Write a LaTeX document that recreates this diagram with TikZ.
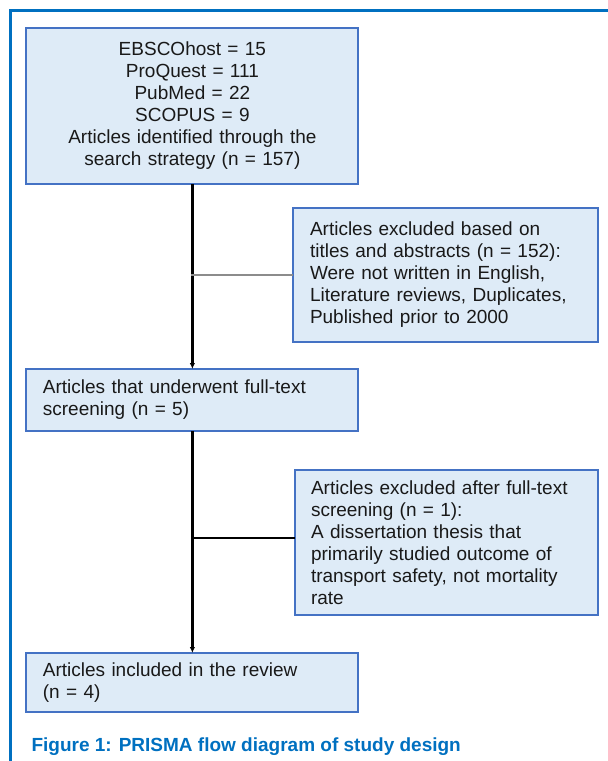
\documentclass[tikz,border=0pt]{standalone}
\usepackage{fontspec}
\setmainfont{Liberation Sans}
\usetikzlibrary{positioning, arrows.meta}
\definecolor{frameblue}{RGB}{0,112,192}
\definecolor{boxfill}{RGB}{222,235,247}
\definecolor{boxedge}{RGB}{68,114,196}

\begin{document}
\begin{tikzpicture}[
    x=1pt, y=-1pt,
    main box/.style={draw=boxedge, fill=boxfill, line width=2pt, outer sep=0pt,
        anchor=north west, inner ysep=0pt, text=black!90,
        font=\fontsize{19}{22}\selectfont},
    side box/.style={main box, align=left, inner xsep=16.5pt, text width=271pt},
    flow line/.style={line width=2.4pt, black, -{Latex[length=6pt, width=5.5pt]}},
    tap line/.style={line width=2.4pt, black},
    thin tap/.style={line width=1.3pt, black!45},
    frame line/.style={line width=2.6pt, frameblue}
]
\useasboundingbox (0,0) rectangle (608,761);

% Marco exterior (solo arriba e izquierda)
\draw[frame line] (10.5,761) -- (10.5,10.5) -- (608,10.5);

% 1. Cajas principales
\node[main box, align=center, text width=312pt, inner xsep=10pt,
      minimum width=332pt, minimum height=155.5pt] (ident) at (26.4,28.3)
    {EBSCOhost = 15\\ ProQuest = 111\\ PubMed = 22\\ SCOPUS = 9\\
     Articles identified through the\\ search strategy (n = 157)};
\node[main box, align=left, text width=299pt, inner xsep=16.5pt,
      minimum width=332pt, minimum height=62pt] (screen) at (26.4,369)
    {Articles that underwent full-text\\ screening (n = 5)};
\node[main box, align=left, text width=299pt, inner xsep=16.5pt,
      minimum width=332pt, minimum height=59pt] (incl) at (26.4,653)
    {Articles included in the review\\ (n = 4)};

% 2. Cajas de exclusión
\node[side box, inner xsep=17pt, minimum width=305pt, minimum height=134pt] (exclA) at (293,208)
    {Articles excluded based on\\ titles and abstracts (n = 152):\\
     Were not written in English,\\ Literature reviews, Duplicates,\\
     Published prior to 2000};
\node[side box, inner xsep=16pt, minimum width=303pt, minimum height=145pt] (exclB) at (295,470)
    {Articles excluded after full-text\\ screening (n = 1):\\
     A dissertation thesis that\\ primarily studied outcome of\\
     transport safety, not mortality\\ rate};

% 3. Flechas del flujo
\draw[flow line] (ident) -- (screen);
\draw[flow line] (screen) -- (incl);

% 4. Ramas hacia las exclusiones
\coordinate (tapA) at ([xshift=-1.5pt]ident.south |- exclA.west);
\draw[thin tap] (tapA) -- (exclA.west);
\coordinate (tapB) at (screen.south |- 0,538);
\draw[tap line] (tapB) -- (tapB -| exclB.west);

% Pie de figura
\node[anchor=base west, text=frameblue, font=\fontsize{19}{22}\selectfont\bfseries] (caption) at (28,751)
    {Figure 1: PRISMA flow diagram of study design};

\end{tikzpicture}
\end{document}
